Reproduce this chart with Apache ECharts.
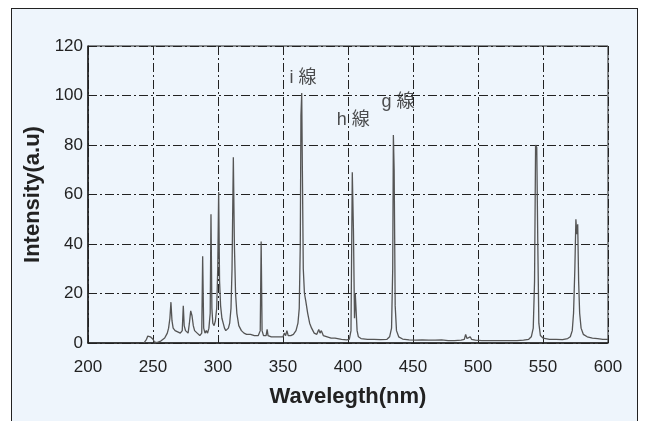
<!DOCTYPE html>
<html>
<head>
<meta charset="utf-8">
<script src="https://cdn.jsdelivr.net/npm/echarts@6/dist/echarts.min.js"></script>
<style>
html, body { margin: 0; padding: 0; background: #fff; overflow: hidden; }
#frame { position: absolute; left: 11px; top: 8px; width: 625px; height: 440px;
  border: 1.5px solid #222; background: #eef5fc; }
#main { position: absolute; left: 0; top: 0; width: 649px; height: 421px; }
</style>
</head>
<body>
<div id="frame"></div>
<div id="main"></div>
<script>
// 横轴刻度
var xTicks = [200, 250, 300, 350, 400, 450, 500, 550, 600];
var yTicks = [0, 20, 40, 60, 80, 100, 120];

// 光谱曲线 [波长nm, 强度]
var spectrum = [
  [243,0],[245,1.5],[246,2.8],[247,2],[248,2.5],[249,2.8],[250,1.5],[251,0.5],[253,0.2],[256,0.8],
  [259,2],[261,4],[262,6],[263,10],[263.8,16.5],[264.6,9],[265.5,6],[267,5],[269,4.5],[271,4],
  [272.5,5],[273.3,15],[274,7],[275,5],[277,4],[278,8],[279,13],[280,11],[281,7],[282,5],
  [284,4],[286,3],[287.5,4],[288.2,35],[289,6],[290,4],[291,5],[292,4],[293,6],[294,12],
  [294.6,52],[295.3,14],[296,8],[297,7],[298,9],[299,14],[299.8,30],[300.5,61],[301.2,25],[302,15],
  [303,10],[304,8],[305,6],[306,5],[307,5],[308,6],[309,8],[310,14],[310.8,30],[311.8,75],
  [312.6,40],[313.5,20],[314.5,12],[316,7],[318,5],[320,4],[322,3.5],[325,3.5],[328,3],[331,3],
  [332.5,5],[333.2,41],[333.9,5],[335,3],[337,3],[337.8,5.5],[338.5,3],[341,2.5],[344,2.5],[347,2.5],
  [350,2.5],[351,4],[352,3],[353,5],[354,3],[356,3],[358,3.5],[360,5],[361.5,8],[362.5,14],
  [363.3,40],[363.8,92],[364.4,101],[364.9,70],[365.6,30],[366.5,20],[367.5,17],[369,12],[370.5,8],[372,6],
  [374,4],[376,3.5],[377.5,5.5],[378.5,4],[379.5,5],[381,3],[384,2.5],[387,2],[390,2],[395,1.5],
  [399,1.3],[401,1.5],[402.3,5],[403.3,69],[404.2,45],[405,10],[405.6,20],[406.3,20],[407,5],[408,2.5],
  [410,1.8],[415,1.5],[420,1.5],[425,1.4],[430,1.5],[432,2.5],[433.5,6],[434.4,30],[434.9,84],[435.5,70],
  [436.3,15],[437.3,5],[439,2.5],[442,1.6],[447,1.3],[452,1.2],[457,1.3],[462,1.2],[467,1.2],[472,1.3],
  [477,1],[482,1],[487,1.2],[489.5,1.5],[490.5,3.5],[491.5,1.8],[493,1.5],[494,2.5],[495,1.5],[498,1.2],
  [503,1],[510,1],[520,1],[530,1],[535,1.2],[539,1.5],[541,2.5],[542.5,6],[543.5,25],[544.3,80],
  [545.2,79],[546,40],[546.8,8],[548,3],[550,2],[555,1.5],[560,1.5],[565,1.4],[569,1.8],[571,2.5],
  [572.5,5],[573.5,12],[574.5,30],[575.3,50],[576,44],[576.7,48],[577.4,25],[578.2,12],[579.3,6],[581,3.5],
  [584,2.5],[588,2],[592,1.8],[596,1.5],[600,1.5]
];

// 谱线标注
var lineNames = ['i 線', 'h 線', 'g 線'];
var lineX = [365.4, 404, 438.5];
var lineY = [107, 90, 97.4];

var labelData = lineNames.map(function (n, i) { return { name: n, value: [lineX[i], lineY[i]] }; });

var dashDot = [9, 3, 2, 3];
var tickFont = 'Liberation Sans Narrow, Liberation Sans';
var myChart = echarts.init(document.getElementById('main'));// 初始化echarts实例
myChart.setOption({
  backgroundColor: 'transparent',
  animation: false,
  grid: { left: 88, right: 41, top: 46, bottom: 78, show: true, borderColor: '#222', borderWidth: 1, backgroundColor: 'transparent' },
  xAxis: {
    type: 'value', min: xTicks[0], max: xTicks[xTicks.length - 1], interval: 50,
    name: 'Wavelegth(nm)', nameLocation: 'middle', nameGap: 43,
    nameTextStyle: { fontFamily: 'Liberation Sans', fontWeight: 'bold', fontSize: 22, color: '#222' },
    axisLine: { lineStyle: { color: '#222', width: 1.5 } },
    axisTick: { show: false },
    axisLabel: { fontFamily: tickFont, fontSize: 17, color: '#222', margin: 16 },
    splitLine: { lineStyle: { color: '#222', width: 1, type: dashDot } }
  },
  yAxis: {
    type: 'value', min: yTicks[0], max: yTicks[yTicks.length - 1], interval: 20,
    name: 'Intensity(a.u)', nameLocation: 'middle', nameGap: 40,
    nameTextStyle: { fontFamily: 'Liberation Sans', fontWeight: 'bold', fontSize: 22, color: '#222' },
    axisLine: { show: true, lineStyle: { color: '#222', width: 1.5 } },
    axisTick: { show: false },
    axisLabel: { fontFamily: tickFont, fontSize: 17, color: '#222', margin: 5 },
    splitLine: { lineStyle: { color: '#222', width: 1, type: dashDot } }
  },
  series: [
    {
      type: 'line', data: spectrum, showSymbol: false, symbol: 'none',
      lineStyle: { color: '#555', width: 1.3 }, z: 3
    },
    {
      type: 'scatter', data: labelData, symbolSize: 0, silent: true,
      label: { show: true, position: 'inside', formatter: '{b}',
        fontFamily: 'Liberation Sans, Noto Sans CJK JP', fontSize: 18, color: '#222' }
    }
  ]
});
</script>
</body>
</html>
